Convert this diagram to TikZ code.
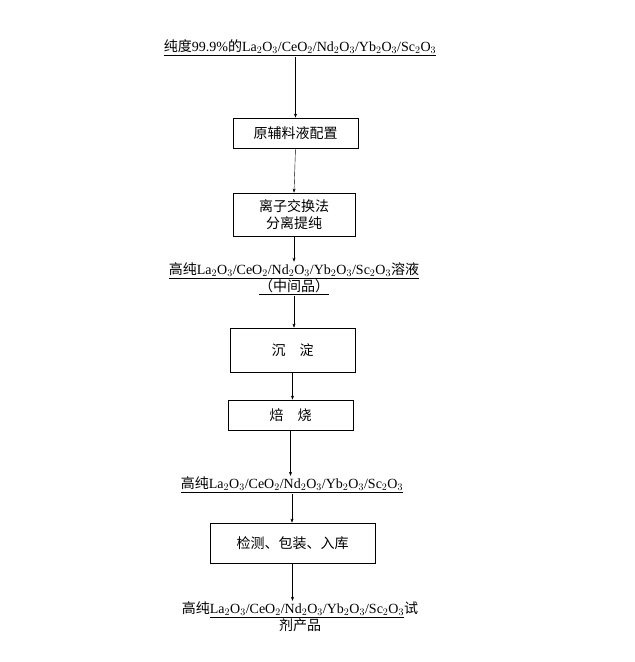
\documentclass[tikz,border=0pt]{standalone}
\usepackage{fontspec}
\setmainfont{Liberation Serif}
\newfontfamily\cjk{Noto Sans CJK SC}
\usetikzlibrary{arrows.meta}
\tikzset{
  stepbox/.style={draw, thick, minimum height=#1, inner sep=0pt},
  label/.style={font=\fontsize{14}{17}\selectfont, align=center, inner sep=1pt},
  flow/.style={-{Stealth[length=4pt,width=3pt]}, thin}
}
\newcommand{\chem}{La$_2$O$_3$/CeO$_2$/Nd$_2$O$_3$/Yb$_2$O$_3$/Sc$_2$O$_3$}
\begin{document}
\begin{tikzpicture}[x=1pt,y=-1pt]
  \useasboundingbox (0,0) rectangle (635,662);

  \node[label] (raw) at (300,48) {\underline{\mbox{{\cjk 纯度}99.9\%{\cjk 的}\chem}}};
  \node[stepbox=30pt, minimum width=125pt, label] (prep) at (295.5,133) {\cjk 原辅料液配置};
  \node[stepbox=43pt, minimum width=122pt, label] (ion) at (294,214.5) {\cjk 离子交换法\\\cjk 分离提纯};
  \node[label] (mid) at (294,279) {\underline{\mbox{{\cjk 高纯}\chem{\cjk 溶液}}}\\\underline{\mbox{\cjk （中间品）}}};
  \node[stepbox=44pt, minimum width=125pt, label] (prec) at (292.5,350) {\cjk 沉\quad 淀};
  \node[stepbox=30pt, minimum width=125pt, label] (calc) at (290.5,415) {\cjk 焙\quad 烧};
  \node[label] (pure) at (292,485) {\underline{\mbox{{\cjk 高纯}\chem}}};
  \node[stepbox=40pt, minimum width=165pt, label] (pack) at (292.5,543) {\cjk 检测、包装、入库};
  \node[label] (prod) at (300,617) {{\cjk 高纯}\underline{\mbox{\chem}}{\cjk 试}\\\cjk 剂产品};

  \draw[flow] (raw.south -| prep.north) -- (prep.north);
  \draw[flow] (prep.south) -- (ion.north);
  \draw[flow] (ion.south) -- (ion.south |- mid.north);
  \draw[flow] (mid.south) -- (mid.south |- prec.north);
  \draw[flow] (prec.south) -- (prec.south |- calc.north);
  \draw[flow] (calc.south) -- (calc.south |- pure.north);
  \draw[flow] (pure.south) -- (pure.south |- pack.north);
  \draw[flow] (pack.south) -- (pack.south |- prod.north);
\end{tikzpicture}
\end{document}
